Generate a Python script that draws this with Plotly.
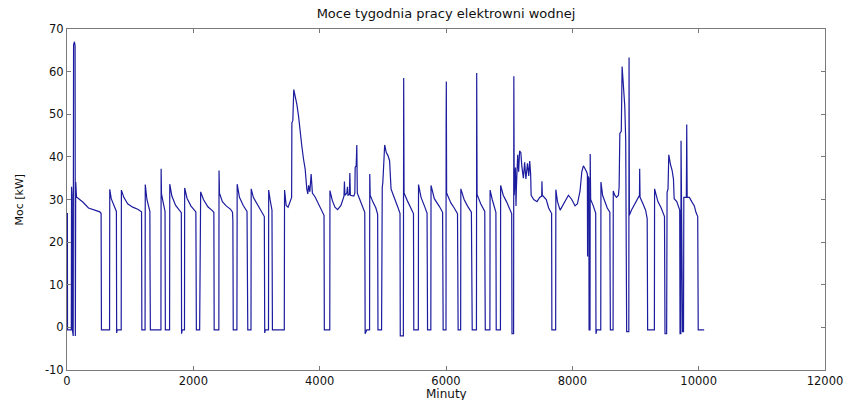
import plotly.graph_objects as go

# Data (minute, power in kW) - polyline vertices
minuty = [
    0, 6, 8, 68, 72, 80, 86, 98, 104, 118, 128, 132, 138, 150, 250, 340, 420, 470, 520, 540, 545,
    674, 677, 700, 740, 782, 786, 794,
    858, 861, 900, 960, 1040, 1120, 1180, 1185,
    1236, 1239, 1265, 1300, 1312, 1315, 1320,
    1487, 1490, 1496, 1520, 1552, 1557,
    1624, 1627, 1660, 1720, 1790, 1810, 1814, 1824,
    1860, 1863, 1900, 1960, 2040, 2048,
    2100, 2104, 2112, 2116, 2160, 2230, 2300, 2325, 2330,
    2404, 2407, 2414, 2460, 2520, 2590, 2620, 2626, 2632,
    2690, 2694, 2730, 2790, 2850, 2862,
    2913, 2916, 2950, 3020, 3100, 3124, 3130, 3140,
    3190, 3193, 3215, 3245, 3252,
    3440, 3444, 3470, 3500, 3540, 3556, 3560, 3575, 3590, 3613, 3639, 3665, 3692, 3717, 3744,
    3770, 3796, 3812, 3825, 3845, 3865, 3885, 3928, 3980, 4032, 4069, 4074,
    4160, 4163, 4200, 4242, 4284, 4337, 4370, 4385, 4392, 4400, 4430, 4440, 4448, 4470, 4478,
    4486, 4540, 4557, 4562, 4578, 4588, 4596, 4635, 4688, 4714, 4720, 4735, 4745, 4790,
    4793, 4800, 4840, 4890, 4918, 4923,
    4980, 4983, 4988, 4991, 5000, 5029, 5055, 5081, 5107, 5130, 5159, 5212, 5238, 5265, 5272,
    5276, 5325,
    5330, 5336, 5395, 5447, 5485, 5490,
    5562, 5565, 5605, 5658, 5700, 5708,
    5760, 5763, 5815, 5894, 5946, 5955,
    6000, 6002, 6005, 6010, 6077, 6130, 6182, 6192,
    6232, 6235, 6287, 6339, 6402, 6415,
    6482, 6486, 6492, 6549, 6602, 6614, 6617, 6622,
    6695, 6698, 6732, 6769, 6790, 6795,
    6862, 6865, 6906, 6958, 7011, 7040, 7045, 7070,
    7074, 7080, 7090, 7100, 7108, 7115, 7135, 7150, 7165, 7185, 7200, 7225, 7245, 7265, 7290,
    7310, 7325, 7340, 7348, 7389, 7441, 7483, 7515, 7519, 7525, 7587, 7625, 7661, 7672, 7676,
    7736, 7739, 7765, 7807, 7860, 7938, 7991, 8043, 8081, 8122, 8150, 8175, 8216, 8238, 8241,
    8245, 8262, 8265, 8280, 8283, 8290, 8332, 8358, 8370, 8374, 8385,
    8450, 8453, 8479, 8515, 8553, 8594, 8602,
    8645, 8648, 8672, 8699, 8730, 8741, 8752, 8775, 8788, 8798, 8814, 8830, 8845, 8852, 8860,
    8894, 8898, 8903,
    8935, 8987, 9040, 9063, 9066, 9072, 9118, 9160, 9185, 9192,
    9299, 9302, 9355, 9407, 9459, 9467, 9493, 9496, 9500, 9515, 9527, 9553, 9580, 9601, 9612,
    9653, 9684, 9700, 9705, 9718, 9721, 9728, 9740, 9745, 9760, 9765, 9805, 9811, 9818, 9853,
    9890, 9932, 9957, 9985, 9993, 10087,
]

moc_kw = [
    26.7, 26.7, -0.6, -0.6, 33.0, 31.0, -0.6, -2.0, 66.3, 67.0, 66.0, -2.0, 34.1, 30.6, 29.4, 28.0, 27.6, 27.3, 27.1, 26.7, -0.6,
    -0.6, 32.4, 30.2, 28.5, 27.2, -1.3, -0.6,
    -0.6, 32.2, 30.5, 29.0, 28.2, 27.7, 27.1, -0.6,
    -0.6, 33.5, 30.0, 27.6, 27.2, 12.7, -0.6,
    -0.6, 37.2, 31.3, 29.5, 27.2, -0.6,
    -0.6, 33.6, 30.8, 28.6, 27.2, 26.9, -1.5, -0.6,
    -0.6, 32.7, 30.3, 28.5, 27.1, -0.6,
    -0.6, 15.8, 15.8, 31.8, 30.0, 28.3, 27.4, 27.0, -0.6,
    -0.6, 36.8, 31.5, 29.5, 28.5, 27.7, 27.0, 25.0, -0.6,
    -0.6, 33.6, 30.5, 28.6, 27.2, -0.6,
    -0.6, 32.5, 30.5, 28.7, 26.8, 26.0, -1.3, -0.6,
    -0.6, 32.2, 30.0, 27.5, -0.6,
    -0.6, 32.2, 28.6, 28.2, 29.8, 30.5, 48.0, 48.5, 55.8, 54.2, 52.3, 49.6, 45.3, 42.6, 39.5,
    37.2, 32.5, 31.3, 33.3, 31.8, 36.0, 31.5, 30.6, 29.0, 27.5, 26.3, -0.6,
    -0.6, 32.1, 29.8, 28.2, 27.6, 28.6, 30.0, 30.8, 34.2, 31.0, 31.5, 33.0, 31.0, 31.2, 36.2,
    31.0, 30.8, 31.5, 37.5, 37.9, 42.8, 31.5, 30.0, 28.0, 27.0, -1.5, -1.0, -0.6, -0.6,
    36.0, 31.0, 29.5, 28.0, 26.5, -0.6,
    -0.6, 16.2, 16.2, 32.9, 34.0, 42.8, 41.0, 40.3, 39.1, 32.5, 31.3, 29.5, 28.2, 27.0, 26.8,
    -2.0, -2.0,
    58.5, 31.5, 29.5, 28.0, 26.7, -0.6,
    -0.6, 33.5, 30.5, 28.5, 26.8, -0.6,
    -0.6, 33.3, 30.2, 28.4, 27.0, -0.6,
    -0.6, 47.4, 57.7, 31.5, 29.2, 28.0, 26.7, -0.6,
    -0.6, 32.5, 30.0, 28.5, 27.0, -0.6,
    -0.6, 59.7, 31.2, 29.0, 27.5, 27.2, 12.3, -0.6,
    -0.6, 32.2, 30.0, 28.0, 27.0, -0.6,
    -0.6, 33.3, 31.0, 29.5, 27.5, 26.7, -1.5, -1.5,
    58.9, 31.0, 34.5, 37.5, 28.5, 33.0, 40.5, 36.5, 41.4, 41.0, 37.9, 35.0, 38.7, 34.8, 38.5,
    35.5, 39.0, 36.0, 31.0, 30.0, 29.5, 30.5, 30.8, 34.3, 31.0, 30.0, 28.0, 27.0, 26.8, -0.6,
    -0.6, 32.3, 29.5, 27.5, 29.0, 31.0, 30.0, 28.5, 29.0, 32.0, 36.5, 37.9, 36.8, 36.0, 16.6,
    35.5, 35.0, -0.6, -0.6, 40.7, 30.0, 28.5, 27.0, 26.8, -1.5, -0.6,
    -0.6, 34.1, 31.0, 29.5, 28.0, 27.0, -0.6,
    -0.6, 32.0, 31.0, 30.5, 31.0, 33.0, 45.5, 46.0, 61.2, 58.5, 56.0, 52.0, 44.0, -0.6, -1.0,
    -1.0, 63.3, 26.3,
    27.5, 29.0, 30.5, 31.0, 37.2, 30.5, 29.0, 27.5, 25.5, -0.6,
    -0.6, 32.5, 29.5, 28.0, 26.0, -1.5, -1.5, 16.0, 31.7, 32.5, 40.5, 38.3, 36.8, 34.8, 30.2,
    29.5, 28.0, 27.5, -1.5, -1.5, 43.8, 30.5, 30.5, -1.0, -1.0, 30.5, 30.5, 47.6, 30.5, 30.5,
    29.5, 28.5, 27.0, 26.0, -0.6, -0.6,
]

x_ticks = [0, 2000, 4000, 6000, 8000, 10000, 12000]
y_ticks = [-10, 0, 10, 20, 30, 40, 50, 60, 70]

title_text = "Moce tygodnia pracy elektrowni wodnej"
x_title = "Minuty"
y_title = "Moc [kW]"

FONT = "DejaVu Sans"

fig = go.Figure()
fig.add_trace(go.Scatter(
    x=minuty, y=moc_kw, mode="lines",
    line=dict(color="rgb(28,28,158)", width=1.2),
    showlegend=False, hoverinfo="skip",
))

axis_common = dict(
    showline=True, linecolor="#7a7a7a", linewidth=1, mirror="ticks",
    ticks="inside", ticklen=4, tickcolor="#7a7a7a", tickwidth=1,
    showgrid=False, zeroline=False,
    tickfont=dict(family=FONT, size=11.5, color="#111111"),
)

fig.update_xaxes(range=[0, 12000], tickvals=x_ticks,
                 ticktext=[str(v) for v in x_ticks], **axis_common)
fig.update_yaxes(range=[-10, 70], tickvals=y_ticks,
                 ticktext=[str(v) for v in y_ticks], **axis_common)

fig.update_layout(
    width=855, height=400,
    margin=dict(l=67, r=25, t=29, b=27),
    paper_bgcolor="white", plot_bgcolor="white",
    title=dict(text=title_text, x=0.5, xref="paper", y=1 - 13 / 400,
               yref="container", xanchor="center", yanchor="middle",
               font=dict(family=FONT, size=13, color="#111111")),
    annotations=[
        dict(text=x_title, xref="paper", yref="paper", x=0.5, y=0,
             xanchor="center", yanchor="top", yshift=-15, showarrow=False,
             font=dict(family=FONT, size=12, color="#111111")),
        dict(text=y_title, xref="paper", yref="paper", x=0, y=0.5,
             xanchor="center", yanchor="middle", xshift=-48, textangle=-90,
             showarrow=False,
             font=dict(family=FONT, size=11, color="#111111")),
    ],
)

fig.write_html("out.html")
